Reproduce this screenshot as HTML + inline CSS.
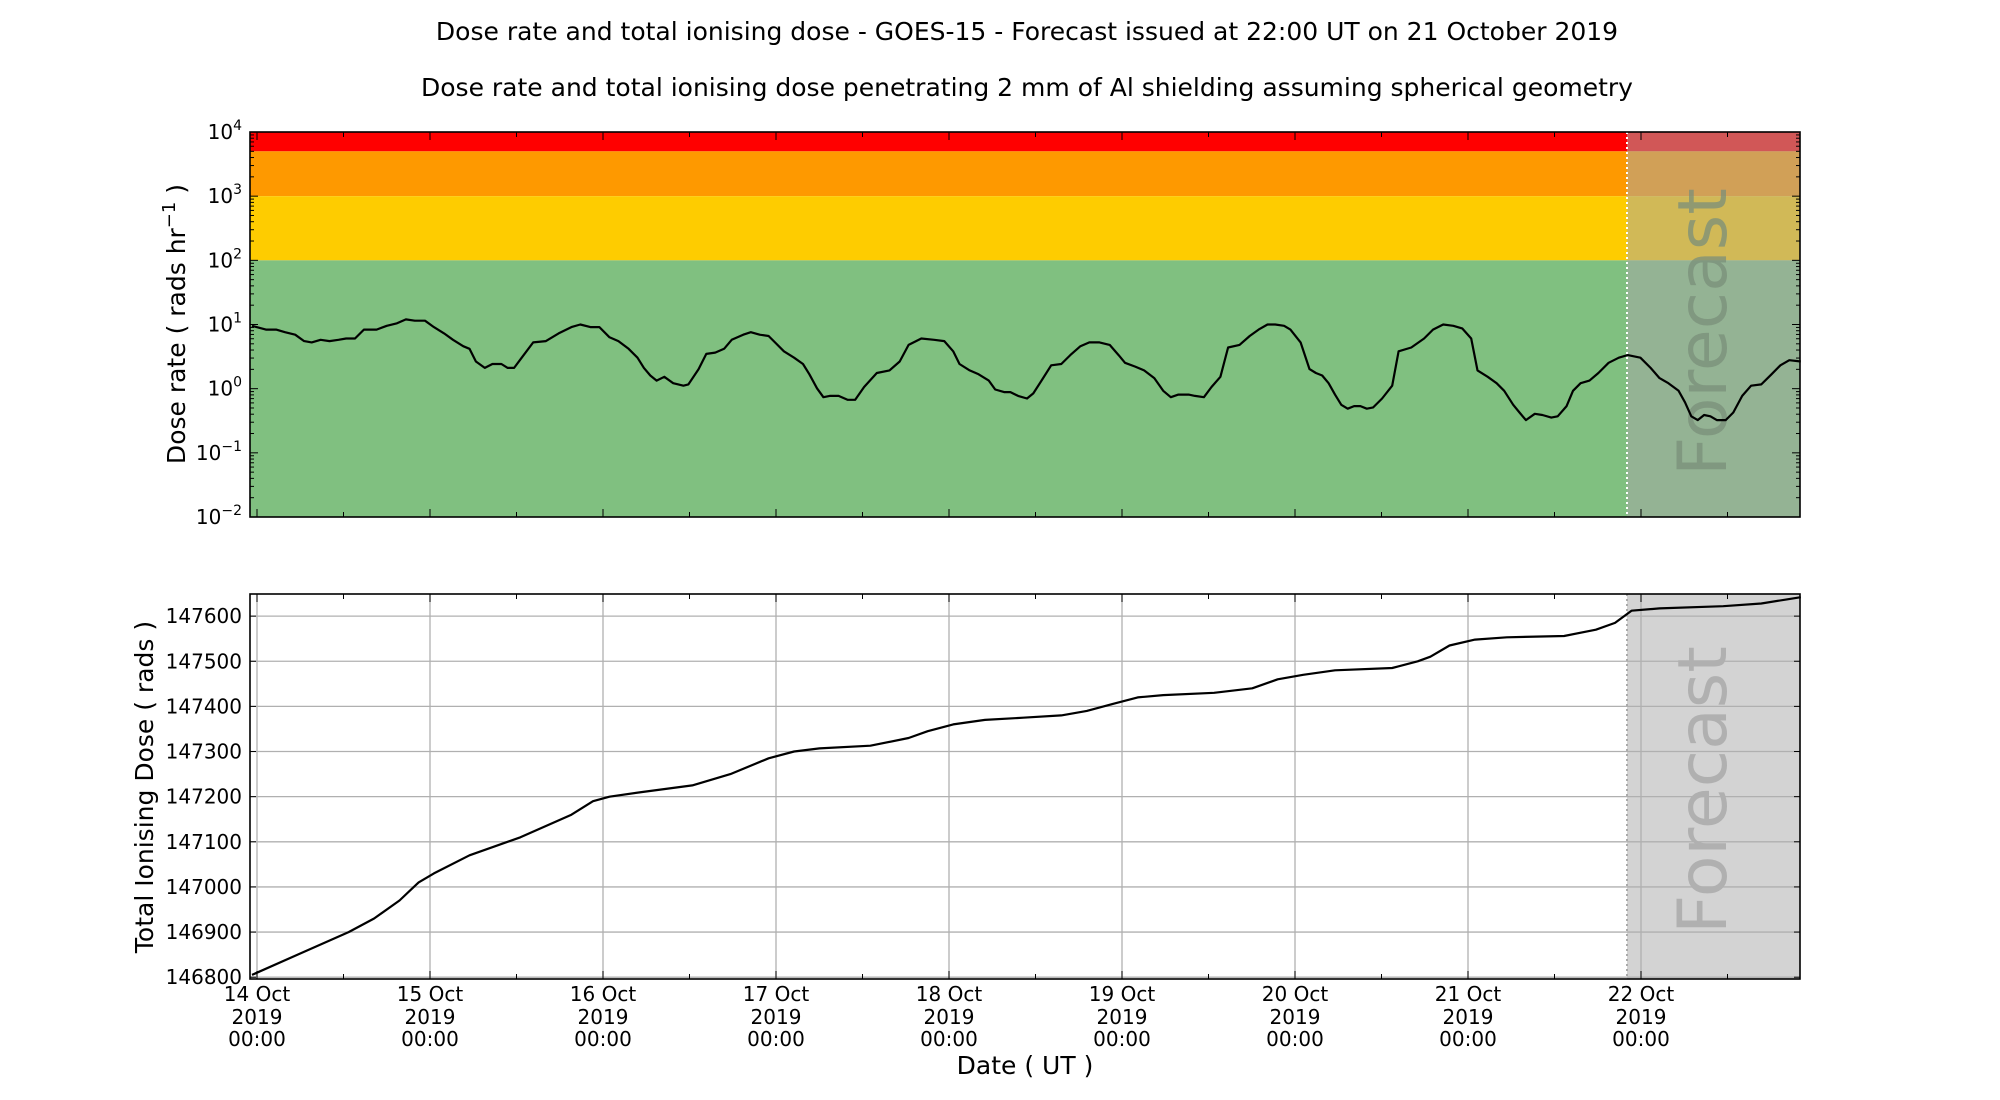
<!DOCTYPE html>
<html><head><meta charset="utf-8"><style>
html,body{margin:0;padding:0;background:#fff}
svg{display:block;font-family:"DejaVu Sans","Liberation Sans",sans-serif}
</style></head><body>
<svg id="s" width="2000" height="1100" xmlns="http://www.w3.org/2000/svg">
<text x="1027" y="40" font-size="25" text-anchor="middle">Dose rate and total ionising dose - GOES-15 - Forecast issued at 22:00 UT on 21 October 2019</text>
<text x="1027" y="96" font-size="25" text-anchor="middle">Dose rate and total ionising dose penetrating 2 mm of Al shielding assuming spherical geometry</text>
<g id="gtop"></g>
<g id="gbot"></g>
</svg>
<script>
(function(){
var NS="http://www.w3.org/2000/svg";
function el(p,t,a,txt){var e=document.createElementNS(NS,t);for(var k in a)e.setAttribute(k,a[k]);if(txt!=null)e.textContent=txt;p.appendChild(e);return e;}
var L=250,R=1800,T1=132,B1=517,T2=594,B2=979,FX=1627;
var day0=257,dw=173;
var gTop=document.getElementById('gtop'),gBot=document.getElementById('gbot');
function ly(v){return T1+(4-Math.log10(v))*(B1-T1)/6;}
el(gTop,'rect',{x:L,y:T1,width:R-L,height:ly(5000)-T1,fill:'#ff0000'});
el(gTop,'rect',{x:L,y:ly(5000),width:R-L,height:ly(1000)-ly(5000),fill:'#fe9900'});
el(gTop,'rect',{x:L,y:ly(1000),width:R-L,height:ly(100)-ly(1000),fill:'#fecc00'});
el(gTop,'rect',{x:L,y:ly(100),width:R-L,height:B1-ly(100),fill:'#80c080'});
el(gTop,'rect',{x:FX,y:T1,width:R-FX,height:B1-T1,fill:'rgb(167,167,167)','fill-opacity':0.52});
el(gBot,'rect',{x:FX,y:T2,width:R-FX,height:B2-T2,fill:'#d3d3d3'});
el(gTop,'text',{x:0,y:0,'font-size':68,fill:'#7a8f7a','fill-opacity':0.75,'text-anchor':'middle',transform:'translate(1726,332) rotate(-90)'},'Forecast');
el(gBot,'text',{x:0,y:0,'font-size':68,fill:'#b0b0b0','text-anchor':'middle',transform:'translate(1726,790) rotate(-90)'},'Forecast');
function by(v){return T2+(147649-v)*(B2-T2)/(147649-146796);}
for(var d=0;d<=8;d++){var x=day0+d*dw;el(gBot,'line',{x1:x,x2:x,y1:T2,y2:B2,stroke:'#b0b0b0','stroke-width':1.3});}
for(var v=146800;v<=147600;v+=100){var y=by(v);el(gBot,'line',{x1:L,x2:R,y1:y,y2:y,stroke:'#b0b0b0','stroke-width':1.3});
 el(gBot,'text',{x:L-8,y:y+7,'font-size':20,'text-anchor':'end'},String(v));
 el(gBot,'line',{x1:L,x2:L+6,y1:y,y2:y,stroke:'#000'});el(gBot,'line',{x1:R,x2:R-6,y1:y,y2:y,stroke:'#000'});}
el(gTop,'line',{x1:FX,x2:FX,y1:T1,y2:B1,stroke:'#fff','stroke-width':2,'stroke-dasharray':'2,3'});
el(gBot,'line',{x1:FX,x2:FX,y1:T2,y2:B2,stroke:'#aaa','stroke-width':2,'stroke-dasharray':'2,3'});
for(var h=0;h<=17;h++){var x=day0+h*dw/2;if(x>R)break;var len=h%2==0?8:5;
 el(gTop,'line',{x1:x,x2:x,y1:B1,y2:B1-len,stroke:'#000'});el(gTop,'line',{x1:x,x2:x,y1:T1,y2:T1+len,stroke:'#000'});
 el(gBot,'line',{x1:x,x2:x,y1:B2,y2:B2-len,stroke:'#000'});el(gBot,'line',{x1:x,x2:x,y1:T2,y2:T2+len,stroke:'#000'});}
for(var d=0;d<=8;d++){var x=day0+d*dw;
 el(gBot,'text',{x:x,y:1001,'font-size':20,'text-anchor':'middle'},(14+d)+' Oct');
 el(gBot,'text',{x:x,y:1024,'font-size':20,'text-anchor':'middle'},'2019');
 el(gBot,'text',{x:x,y:1046,'font-size':20,'text-anchor':'middle'},'00:00');}
el(gBot,'text',{x:1025,y:1074,'font-size':25,'text-anchor':'middle'},'Date ( UT )');
for(var e=-2;e<=4;e++){var y=ly(Math.pow(10,e));
 var t=el(gTop,'text',{x:L-8,y:y+7,'font-size':20,'text-anchor':'end'});
 el(t,'tspan',{},'10');el(t,'tspan',{dy:-9,'font-size':14},e<0?'\u2212'+(-e):String(e));
 el(gTop,'line',{x1:L,x2:L+8,y1:y,y2:y,stroke:'#000'});el(gTop,'line',{x1:R,x2:R-8,y1:y,y2:y,stroke:'#000'});
 if(e<4)for(var m=2;m<=9;m++){var yy=ly(m*Math.pow(10,e));el(gTop,'line',{x1:L,x2:L+4,y1:yy,y2:yy,stroke:'#000'});el(gTop,'line',{x1:R,x2:R-4,y1:yy,y2:yy,stroke:'#000'});}}
var t=el(gTop,'text',{x:0,y:0,'font-size':25,'text-anchor':'middle',transform:'translate(185,324) rotate(-90)'});
el(t,'tspan',{},'Dose rate ( rads hr');el(t,'tspan',{dy:-10,'font-size':18},'\u22121');el(t,'tspan',{dy:10},' )');
el(gBot,'text',{x:0,y:0,'font-size':25,'text-anchor':'middle',transform:'translate(153,787) rotate(-90)'},'Total Ionising Dose ( rads )');
var p=[198,255,205,258,213,258,220,260,228,262,235,267,241,268,248,266,255,267,262,266,268,265,275,265,282,258,292,258,300,255,308,253,315,250,322,251,330,251,337,256,345,261,352,266,360,271,365,273,370,283,377,288,383,285,390,285,395,288,400,288,406,280,415,268,425,267,435,261,445,256,452,254,460,256,467,256,475,264,482,267,490,273,497,280,502,288,507,294,512,298,518,295,525,300,533,302,537,301,545,289,551,277,558,276,565,273,571,266,580,262,586,260,593,262,600,263,605,268,612,275,620,280,627,285,632,293,638,304,643,311,648,310,655,310,662,313,668,313,675,303,685,292,695,290,703,283,710,270,720,265,730,266,738,267,745,275,750,285,758,290,765,293,773,298,778,305,785,307,790,307,796,310,803,312,808,308,815,297,822,286,830,285,837,278,845,271,852,268,860,268,868,270,875,278,880,284,888,287,895,290,903,296,910,306,916,311,922,309,930,309,935,310,942,311,948,303,955,295,961,272,970,270,978,263,985,258,992,254,998,254,1005,255,1010,258,1018,268,1025,289,1030,292,1035,294,1040,300,1045,309,1050,317,1055,320,1060,318,1065,318,1070,320,1075,319,1082,312,1090,302,1095,275,1105,272,1115,265,1122,258,1130,254,1138,255,1145,257,1152,265,1157,290,1165,295,1172,300,1178,306,1185,317,1190,323,1195,329,1202,324,1208,325,1215,327,1220,326,1227,318,1232,306,1238,300,1245,298,1252,292,1260,284,1268,280,1275,278,1285,280,1293,288,1300,296,1307,300,1315,306,1320,315,1325,326,1330,329,1335,325,1340,326,1345,329,1352,329,1358,323,1365,310,1372,302,1380,301,1388,293,1395,286,1402,282,1411,283];
var dd='';for(var i=0;i<p.length;i+=2){var x=day0+(p[i]-198)*1.2727,y=T1+(p[i+1]-103)*1.275;if(i==0)x=L+2;dd+=(i?'L':'M')+x.toFixed(1)+','+y.toFixed(1);}
el(gTop,'path',{d:dd,fill:'none',stroke:'#000','stroke-width':2.2,'stroke-linejoin':'round'});
var q=[198,146805,230,146850,270,146900,290,146930,310,146970,325,147010,337,147030,365,147070,405,147110,445,147160,462,147190,475,147200,500,147210,540,147225,570,147250,600,147285,620,147300,640,147307,680,147313,710,147330,725,147345,745,147360,770,147370,800,147375,830,147380,850,147390,870,147405,890,147420,910,147425,950,147430,980,147440,1000,147460,1020,147470,1045,147480,1090,147485,1110,147500,1120,147510,1135,147535,1155,147548,1180,147553,1225,147556,1250,147570,1265,147585,1278,147612,1300,147617,1350,147622,1380,147628,1400,147637,1411,147642];
dd='';for(var i=0;i<q.length;i+=2){var x=day0+(q[i]-198)*1.2727;if(i==0)x=L+2;dd+=(i?'L':'M')+x.toFixed(1)+','+by(q[i+1]).toFixed(1);}
el(gBot,'path',{d:dd,fill:'none',stroke:'#000','stroke-width':2.2,'stroke-linejoin':'round'});
el(gTop,'rect',{x:L,y:T1,width:R-L,height:B1-T1,fill:'none',stroke:'#000','stroke-width':1.6});
el(gBot,'rect',{x:L,y:T2,width:R-L,height:B2-T2,fill:'none',stroke:'#000','stroke-width':1.6});
})();
</script>
</body></html>
